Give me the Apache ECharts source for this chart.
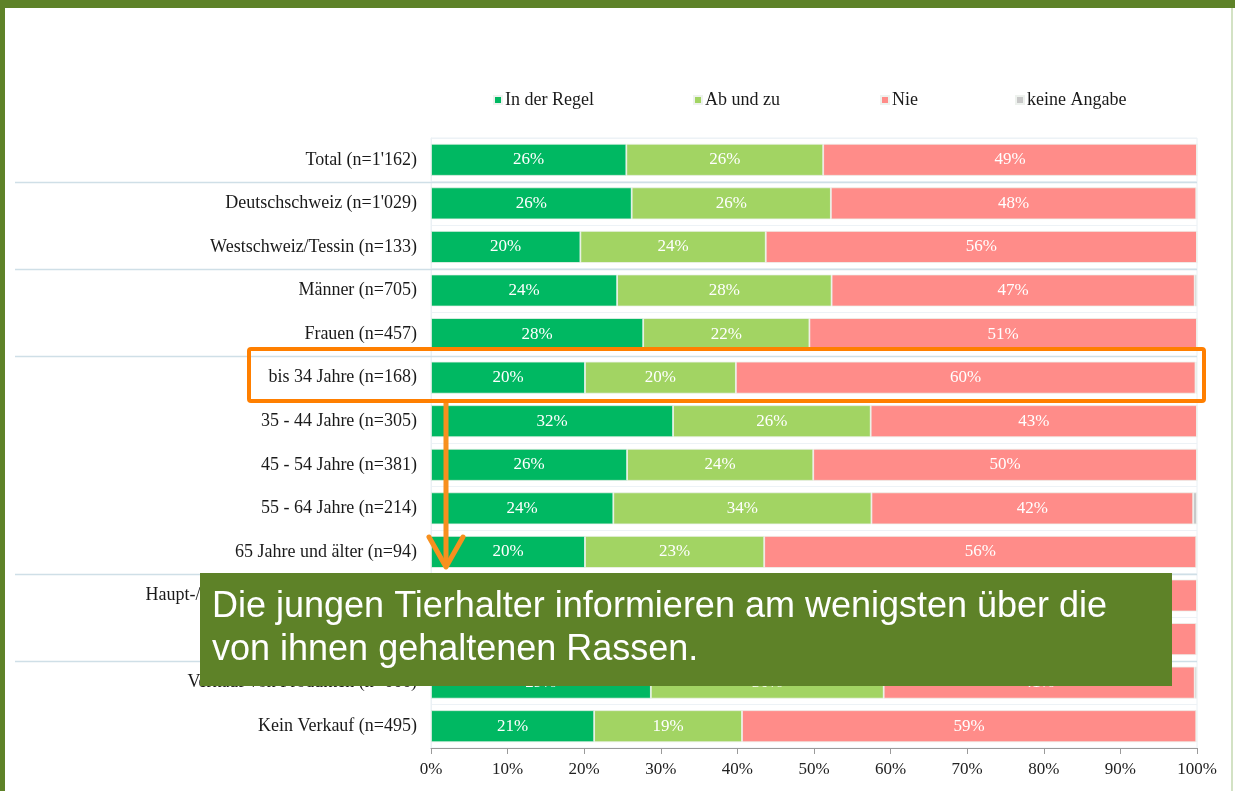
<!DOCTYPE html>
<html>
<head>
<meta charset="utf-8">
<script src="https://cdn.jsdelivr.net/npm/echarts@6/dist/echarts.min.js"></script>
<style>
  html, body { margin: 0; padding: 0; background: #fff; }
  #chart { width: 1235px; height: 791px; }
</style>
</head>
<body>
<div id="chart"></div>
<script>
/* Kategorien und Werte (Anteile in %) */
const categories = [
  "Total (n=1'162)",
  "Deutschschweiz (n=1'029)",
  "Westschweiz/Tessin (n=133)",
  "Männer (n=705)",
  "Frauen (n=457)",
  "bis 34 Jahre (n=168)",
  "35 - 44 Jahre (n=305)",
  "45 - 54 Jahre (n=381)",
  "55 - 64 Jahre (n=214)",
  "65 Jahre und älter (n=94)",
  "Haupt-/Nebenerwerbsbetrieb (n=452)",
  "Hobbyhaltung (n=710)",
  "Verkauf von Produkten (n=666)",
  "Kein Verkauf (n=495)"
];
const seriesNames = ['In der Regel', 'Ab und zu', 'Nie', 'keine Angabe'];
const inDerRegel  = [25.5, 26.2, 19.5, 24.3, 27.7, 20.1, 31.6, 25.6, 23.8, 20.1, 29.5, 22.8, 28.7, 21.3];
const abUndZu     = [25.7, 26.0, 24.2, 28.0, 21.7, 19.7, 25.8, 24.3, 33.7, 23.4, 28.6, 24.1, 30.4, 19.3];
const nie         = [48.8, 47.7, 56.3, 47.4, 50.6, 60.0, 42.6, 50.1, 42.0, 56.4, 41.9, 53.0, 40.6, 59.3];
const keineAngabe = [0.0, 0.1, 0.0, 0.3, 0.0, 0.2, 0.0, 0.0, 0.5, 0.1, 0.0, 0.1, 0.3, 0.1];
const xTicks = [0, 10, 20, 30, 40, 50, 60, 70, 80, 90, 100];
/* Gruppengrenzen: Trennlinie nach diesen Kategorien */
const groupEnds = [0, 2, 4, 9, 11];

const colors = ['#00b862', '#a2d463', '#ff8c89', '#c8c8c8'];
const serif = 'Liberation Serif';

const chart = echarts.init(document.getElementById('chart'));

const allValues = [inDerRegel, abUndZu, nie, keineAngabe];
const legendLeft = [493, 693, 880, 1015];

let option = {
  animation: false,
  color: colors,
  legend: seriesNames.map((n, i) => ({
    data: [n],
    top: 91,
    left: legendLeft[i],
    padding: 0,
    icon: 'rect',
    itemWidth: 8,
    itemHeight: 8,
    itemGap: 0,
    textStyle: { fontFamily: serif, fontSize: 18, color: '#1a1a1a', padding: [0, 0, 0, -2] }
  })),
  grid: {
    left: 431,
    right: 38,
    top: 138,
    bottom: 43,
    show: true,
    borderColor: '#eaf0f4',
    borderWidth: 1
  },
  xAxis: {
    type: 'value',
    min: 0,
    max: 100,
    interval: 10,
    axisLine: { show: true, lineStyle: { color: '#9a9a9a' } },
    axisTick: { show: true, length: 6, lineStyle: { color: '#9a9a9a' } },
    splitLine: { show: false },
    axisLabel: {
      formatter: v => xTicks.includes(v) ? v + '%' : '',
      fontFamily: serif, fontSize: 17, color: '#222', margin: 13
    }
  },
  yAxis: {
    type: 'category',
    inverse: true,
    data: categories,
    axisLine: { show: true, lineStyle: { color: '#eaf0f4' } },
    axisTick: { show: false },
    splitLine: { show: true, lineStyle: { color: '#edf2f6' } },
    axisLabel: { fontFamily: serif, fontSize: 18, color: '#1a1a1a', margin: 14, padding: [3, 0, 0, 0] }
  },
  series: seriesNames.map((n, i) => ({
    name: n,
    type: 'bar',
    stack: 'total',
    barWidth: 32,
    data: allValues[i],
    itemStyle: { color: colors[i], borderColor: '#eef2ee', borderWidth: 0.8 },
    label: {
      show: true,
      position: 'inside',
      color: '#fff',
      fontFamily: serif,
      fontSize: 17,
      formatter: p => p.value >= 3 ? Math.round(p.value) + '%' : ''
    }
  }))
};
chart.setOption(option);

/* Trennlinien zwischen den Gruppen, Rahmen, Hinweis */
const rightX = chart.convertToPixel({ xAxisIndex: 0 }, 100);
const sepLines = groupEnds.map(idx => {
  const y0 = chart.convertToPixel({ yAxisIndex: 0 }, categories[idx]);
  const y1 = chart.convertToPixel({ yAxisIndex: 0 }, categories[idx + 1]);
  const y = Math.round((y0 + y1) / 2) + 0.5;
  return {
    type: 'line', z: 5,
    shape: { x1: 15, y1: y, x2: rightX, y2: y },
    style: { stroke: '#cfdfe7', lineWidth: 1.5 }
  };
});

chart.setOption({
  graphic: [
    ...sepLines,
    { type: 'rect', z: 50, shape: { x: 0, y: 0, width: 1235, height: 8 }, style: { fill: '#5e8228' } },
    { type: 'rect', z: 50, shape: { x: 0, y: 0, width: 5, height: 791 }, style: { fill: '#5e8228' } },
    { type: 'rect', z: 50, shape: { x: 1231, y: 8, width: 2, height: 783 }, style: { fill: '#d3e2c4' } },
    {
      type: 'rect', z: 60,
      shape: { x: 249, y: 349, width: 955, height: 52, r: 2 },
      style: { fill: 'none', stroke: '#ff7f00', lineWidth: 4 }
    },
    {
      type: 'line', z: 60,
      shape: { x1: 446, y1: 403, x2: 446, y2: 566 },
      style: { stroke: '#f7901e', lineWidth: 5 }
    },
    {
      type: 'polyline', z: 60,
      shape: { points: [[429, 537], [446, 567], [463, 537]] },
      style: { stroke: '#f7901e', lineWidth: 5, fill: 'none', lineCap: 'round', lineJoin: 'round' }
    },
    {
      type: 'rect', z: 70,
      shape: { x: 200, y: 573, width: 972, height: 113 },
      style: { fill: '#5e8228' }
    },
    {
      type: 'text', z: 71,
      x: 212, y: 586,
      style: {
        text: 'Die jungen Tierhalter informieren am wenigsten über die\nvon ihnen gehaltenen Rassen.',
        fill: '#fff',
        font: '36px "Liberation Sans", Arial, sans-serif',
        lineHeight: 43
      }
    }
  ]
});
</script>
</body>
</html>
